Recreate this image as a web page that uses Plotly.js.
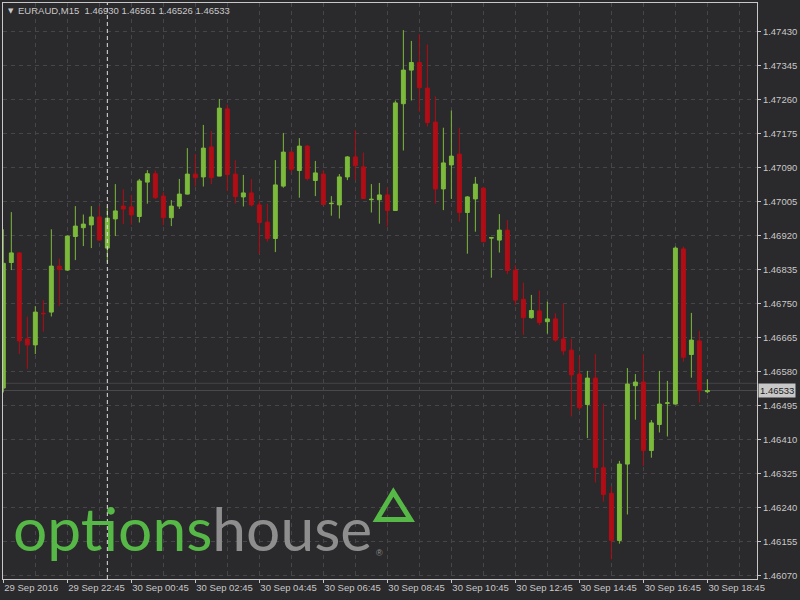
<!DOCTYPE html>
<html>
<head>
<meta charset="utf-8">
<script src="https://cdn.plot.ly/plotly-3.0.1.min.js"></script>
<style>html,body{margin:0;padding:0;background:#2a292b;}#chart{width:800px;height:600px;}</style>
</head>
<body>
<div id="chart"></div>
<script>
// EURAUD M15 candles (index 0 = 29 Sep 2016 20:45)
const opens  = [1.46539,1.46853,1.46877,1.46662,1.46647,1.46726,1.46729,1.46844,1.46834,1.46918,
                1.46940,1.46947,1.46967,1.46889,1.46962,1.46994,1.46992,1.46968,1.47054,1.47075,
                1.47019,1.46965,1.46994,1.47024,1.47074,1.47067,1.47142,1.47069,1.47237,1.47074,
                1.47017,1.47027,1.46997,1.46954,1.46913,1.47044,1.47129,1.47083,1.47144,1.47058,
                1.47074,1.47000,1.46997,1.47067,1.47117,1.47092,1.47010,1.47010,1.47022,1.46983,
                1.47250,1.47334,1.47353,1.47289,1.47204,1.47037,1.47097,1.47124,1.46978,1.47012,
                1.47039,1.46914,1.46909,1.46934,1.46834,1.46761,1.46715,1.46732,1.46705,1.46712,
                1.46662,1.46634,1.46574,1.46498,1.46564,1.46340,1.46276,1.46158,1.46349,1.46545,
                1.46554,1.46383,1.46448,1.46501,1.46499,1.46887,1.46623,1.46657,1.46530];
const highs  = [1.46936,1.46979,1.46879,1.46718,1.46744,1.46759,1.46936,1.46863,1.46921,1.46994,
                1.46973,1.46994,1.46994,1.46993,1.47049,1.47036,1.47022,1.47062,1.47084,1.47083,
                1.47029,1.47009,1.47062,1.47139,1.47124,1.47197,1.47182,1.47262,1.47248,1.47109,
                1.47072,1.47062,1.47007,1.47000,1.47109,1.47177,1.47132,1.47164,1.47147,1.47107,
                1.47084,1.47019,1.47074,1.47119,1.47184,1.47128,1.47049,1.47052,1.47040,1.47258,
                1.47434,1.47407,1.47424,1.47398,1.47268,1.47190,1.47233,1.47190,1.47019,1.47067,
                1.47042,1.46917,1.46974,1.46959,1.46846,1.46803,1.46772,1.46783,1.46755,1.46726,
                1.46751,1.46663,1.46619,1.46582,1.46624,1.46500,1.46293,1.46357,1.46589,1.46574,
                1.46624,1.46459,1.46582,1.46557,1.46893,1.46893,1.46727,1.46682,1.46561];
const lows   = [1.46528,1.46834,1.46624,1.46587,1.46624,1.46680,1.46718,1.46744,1.46832,1.46859,
                1.46894,1.46889,1.46907,1.46853,1.46919,1.46949,1.46947,1.46953,1.47000,1.47012,
                1.46946,1.46944,1.46987,1.47023,1.47043,1.47043,1.47049,1.47069,1.47032,1.47000,
                1.46993,1.46993,1.46874,1.46905,1.46879,1.47040,1.47077,1.47015,1.47058,1.47019,
                1.46997,1.46970,1.46963,1.47059,1.47059,1.47012,1.46978,1.46950,1.46943,1.46982,
                1.47133,1.47258,1.47230,1.47193,1.47000,1.46984,1.47012,1.46955,1.46875,1.46930,
                1.46904,1.46815,1.46878,1.46824,1.46747,1.46672,1.46713,1.46696,1.46675,1.46655,
                1.46622,1.46468,1.46484,1.46414,1.46303,1.46255,1.46111,1.46150,1.46223,1.46460,
                1.46344,1.46365,1.46428,1.46418,1.46498,1.46605,1.46565,1.46503,1.46526];
const closes = [1.46851,1.46877,1.46657,1.46647,1.46729,1.46725,1.46844,1.46836,1.46919,1.46944,
                1.46949,1.46967,1.46909,1.46964,1.46982,1.46987,1.46972,1.47057,1.47075,1.47015,
                1.46965,1.46994,1.47024,1.47074,1.47065,1.47139,1.47065,1.47239,1.47073,1.47018,
                1.47027,1.46997,1.46953,1.46913,1.47047,1.47129,1.47086,1.47144,1.47063,1.47077,
                1.46998,1.47001,1.47067,1.47117,1.47095,1.47013,1.47011,1.47022,1.46983,1.47252,
                1.47334,1.47353,1.47290,1.47203,1.47037,1.47102,1.47119,1.46978,1.47017,1.47049,
                1.46905,1.46915,1.46934,1.46833,1.46759,1.46715,1.46733,1.46703,1.46712,1.46659,
                1.46632,1.46572,1.46490,1.46564,1.46340,1.46273,1.46158,1.46349,1.46549,1.46554,
                1.46383,1.46452,1.46499,1.46502,1.46889,1.46616,1.46659,1.46533,1.46533];
const barIndex = opens.map((_, i) => i);

const timeTickIndex = [0,8,16,24,32,40,48,56,64,72,80,88];
const timeTickLabels = ['29 Sep 2016','29 Sep 22:45','30 Sep 00:45','30 Sep 02:45','30 Sep 04:45',
                        '30 Sep 06:45','30 Sep 08:45','30 Sep 10:45','30 Sep 12:45','30 Sep 14:45',
                        '30 Sep 16:45','30 Sep 18:45'];
const priceTicks = [1.47430,1.47345,1.47260,1.47175,1.47090,1.47005,1.46920,1.46835,1.46750,
                    1.46665,1.46580,1.46495,1.46410,1.46325,1.46240,1.46155,1.46070];
const priceTickLabels = priceTicks.map(v => v.toFixed(5));

const headerText = 'EURAUD,M15  1.46930 1.46561 1.46526 1.46533';
const bidPrice = 1.46533;
const askPrice = 1.46551;
const crosshairIndex = 13;

const bg = '#2a292b';
const frame = '#c8c8c8';
const gridCol = '#46454a';
const green = '#7cba3c';
const red = '#b10d16';
const axisFont = {family: 'Liberation Sans, Arial, sans-serif', size: 9.5, color: '#c8c8c8'};

const trace = {
  type: 'candlestick',
  x: barIndex, open: opens, high: highs, low: lows, close: closes,
  increasing: {line: {color: green, width: 1}, fillcolor: green},
  decreasing: {line: {color: red, width: 1}, fillcolor: red},
  whiskerwidth: 0,
  hoverinfo: 'skip',
  showlegend: false
};

const layout = {
  width: 800, height: 600,
  margin: {l: 3, r: 43, t: 3, b: 21},
  paper_bgcolor: bg, plot_bgcolor: bg,
  showlegend: false,
  boxgap: 0.3,
  xaxis: {
    range: [-0.04, 94.2],
    rangeslider: {visible: false},
    tickmode: 'array', tickvals: timeTickIndex, ticktext: timeTickLabels,
    ticklabelposition: 'outside right', tickangle: 0,
    ticks: 'outside', ticklen: 3, tickcolor: frame, tickfont: axisFont,
    showline: true, mirror: true, linecolor: frame, linewidth: 1,
    showgrid: true, gridcolor: gridCol, griddash: '4px,4px', gridwidth: 1,
    minor: {tickmode: 'linear', tick0: 0, dtick: 4, showgrid: true, gridcolor: gridCol, griddash: '4px,4px', ticks: ''},
    zeroline: false, fixedrange: true
  },
  yaxis: {
    side: 'right',
    range: [1.460617, 1.475018],
    tickmode: 'array', tickvals: priceTicks, ticktext: priceTickLabels,
    ticks: 'outside', ticklen: 3, tickcolor: frame, tickfont: axisFont,
    showline: true, mirror: true, linecolor: frame, linewidth: 1,
    showgrid: true, gridcolor: gridCol, griddash: '4px,4px', gridwidth: 1,
    zeroline: false, fixedrange: true
  },
  shapes: [
    {type: 'line', xref: 'paper', x0: 0, x1: 1, yref: 'y', y0: askPrice, y1: askPrice, line: {color: '#454448', width: 1}, layer: 'below'},
    {type: 'line', xref: 'paper', x0: 0, x1: 1, yref: 'y', y0: bidPrice, y1: bidPrice, line: {color: '#4a494d', width: 1}, layer: 'below'},
    {type: 'line', xref: 'x', x0: crosshairIndex, x1: crosshairIndex, yref: 'paper', y0: 0, y1: 1, line: {color: '#e0e0e0', width: 1, dash: '4px,3px'}, layer: 'above'},
    {type: 'path', xref: 'paper', yref: 'paper',
     path: 'M 0.5177 0.1510 L 0.4960 0.1034 L 0.5404 0.1034 Z',
     line: {color: '#56b846', width: 5}, fillcolor: 'rgba(0,0,0,0)', layer: 'above'}
  ],
  annotations: [
    {xref: 'paper', yref: 'paper', x: 0.004, y: 0.9865, xanchor: 'left', yanchor: 'middle', showarrow: false,
     text: '▼', font: {family: 'DejaVu Sans, sans-serif', size: 7, color: '#c8c8c8'}},
    {xref: 'paper', yref: 'paper', x: 0.0175, y: 0.9865, xanchor: 'left', yanchor: 'middle', showarrow: false,
     text: headerText, font: {family: 'Liberation Sans, Arial, sans-serif', size: 9.5, color: '#c8c8c8'}},
    {xref: 'paper', yref: 'paper', x: 0.0106, y: 0.022, xanchor: 'left', yanchor: 'bottom', showarrow: false,
     text: '<span style="color:#56b846">options</span><span style="color:#8e8e8e">house</span>',
     font: {family: 'Lato, sans-serif', size: 60.5, weight: 400, color: '#8e8e8e'}},
    {xref: 'paper', yref: 'paper', x: 0.4995, y: 0.046, xanchor: 'center', yanchor: 'middle', showarrow: false,
     text: '®', font: {family: 'Liberation Sans, Arial, sans-serif', size: 9, color: '#8e8e8e'}},
    {xref: 'paper', yref: 'y', x: 1, y: bidPrice, xanchor: 'left', yanchor: 'middle', showarrow: false, xshift: 1,
     text: bidPrice.toFixed(5), bgcolor: '#c8c8c8', borderpad: 1,
     font: {family: 'Liberation Sans, Arial, sans-serif', size: 9.5, color: '#1a1a1a'}}
  ]
};

Plotly.newPlot('chart', [trace], layout, {staticPlot: true, displayModeBar: false});
</script>
</body>
</html>
